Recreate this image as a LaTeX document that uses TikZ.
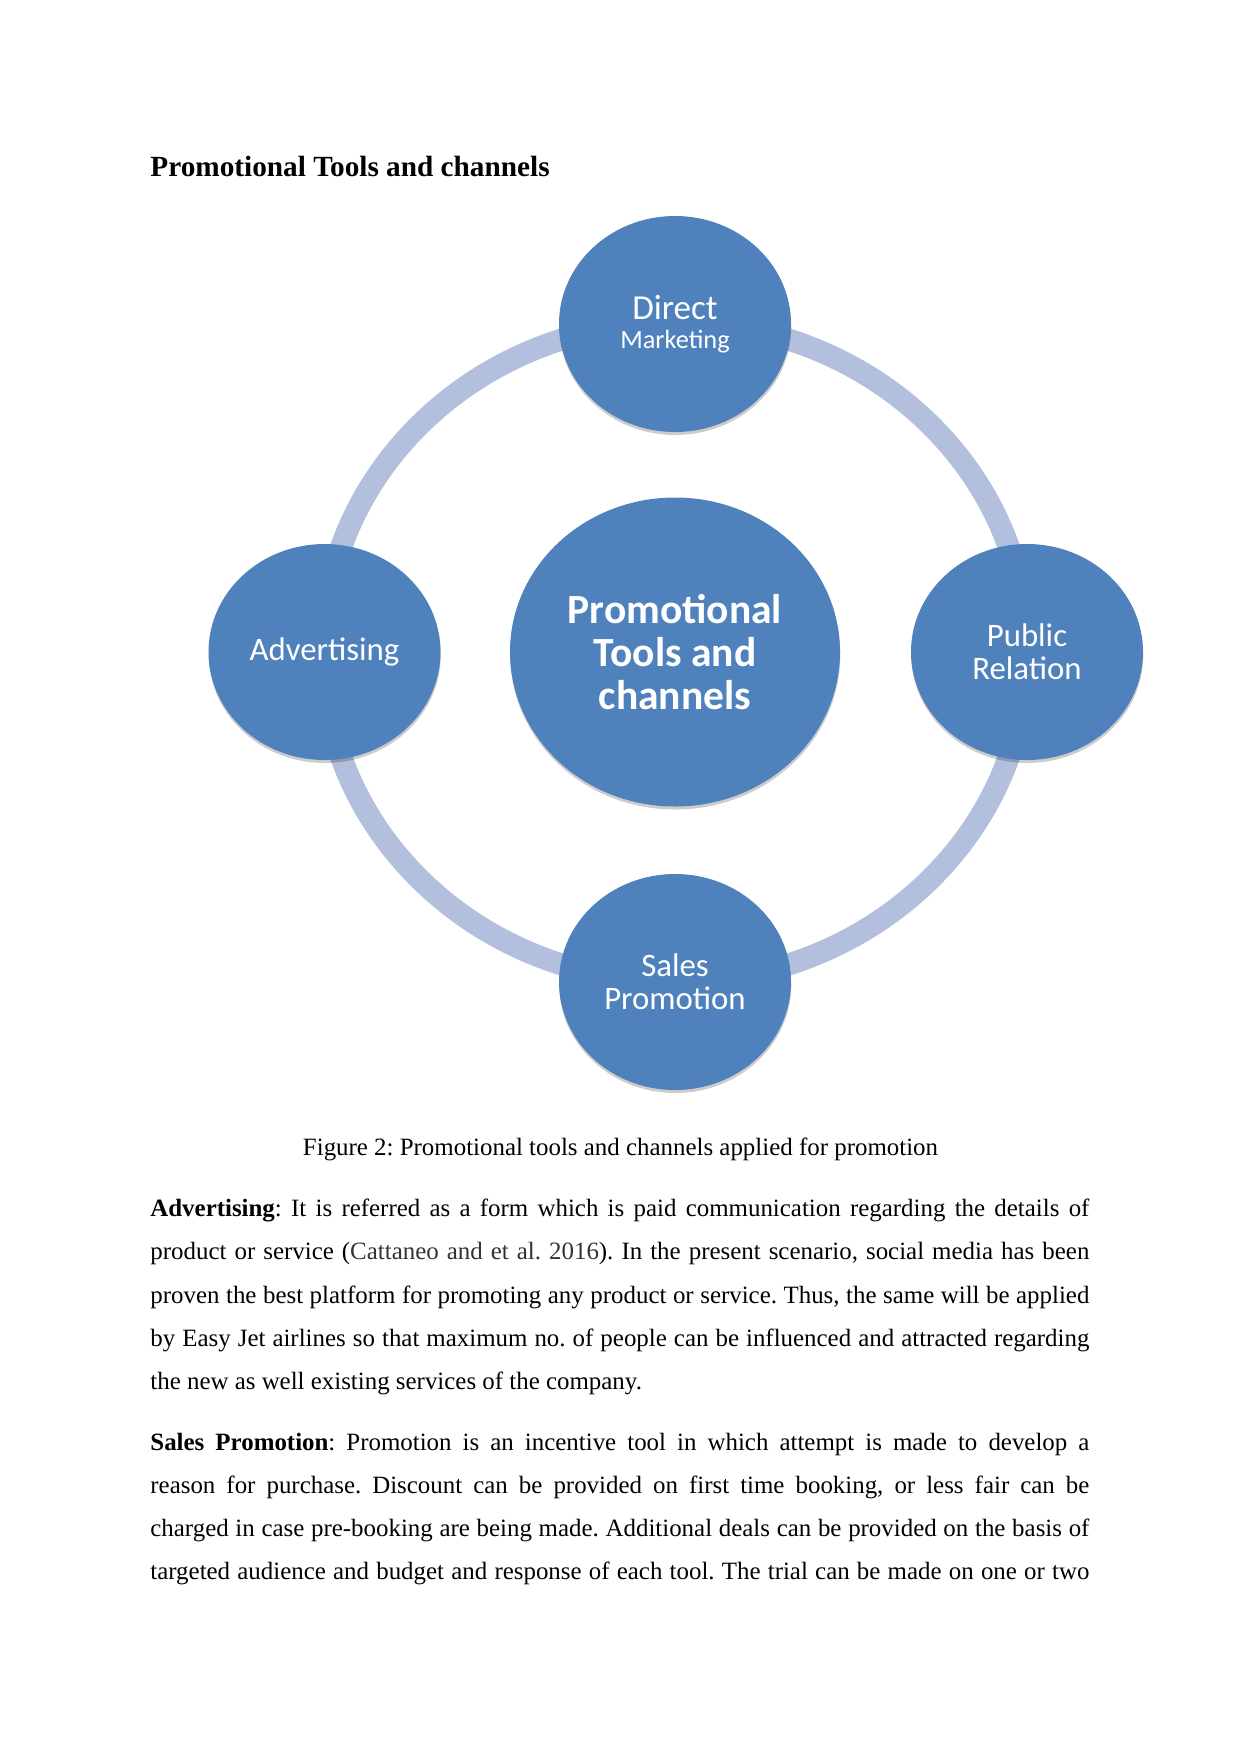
\documentclass[tikz,border=0pt]{standalone}
\usepackage{fontspec}
\setmainfont{Liberation Serif}
\newfontfamily\smartfont{Carlito}
\usepackage{tikz}
\usetikzlibrary{
  shapes.geometric,%
  % soft shadow under the circles
  shadows,
  positioning,
  calc
}
\definecolor{circblue}{RGB}{79,129,189}
\definecolor{ringblue}{RGB}{178,192,222}
\def\pxu{0.169333mm}
\tikzset{font=\normalsize}
\tikzset{
  bubble/.style={ellipse, fill=circblue, text=white, align=center, inner sep=0pt,
    minimum width=232*\pxu, minimum height=216*\pxu,
    font=\smartfont\fontsize{15.8}{15.8}\selectfont,
    drop shadow={shadow xshift=0.3*\pxu, shadow yshift=-3*\pxu, opacity=0.2, fill=black}},
  hubble/.style={bubble, minimum width=330*\pxu, minimum height=309*\pxu},
  bodytext/.style={anchor=base west, inner sep=0pt, text width=939*\pxu, align=justify,
    font=\fontsize{12}{20.8}\selectfont}
}

\begin{document}
\frenchspacing
\begin{tikzpicture}[x=\pxu, y=-\pxu]
          \useasboundingbox[fill=white] (0,0) rectangle (1241,1754);
          \node[anchor=base west, inner sep=0pt, font=\fontsize{14.1}{16}\selectfont\bfseries] (title) at (150,176.7) {Promotional Tools and channels};
          % the ring behind the circles
          \coordinate (ctr) at (675,652);
          \draw[ringblue, line width=22*\pxu] (ctr) ellipse [x radius=352, y radius=330];
          \node[hubble, font=\smartfont\fontsize{20}{20.6}\selectfont\bfseries] (hub) at (ctr) {Promotional\\Tools and\\channels};
          \node[bubble, font=\smartfont\fontsize{12.7}{13.9}\selectfont] (dm) at (675,324) {{\fontsize{16.9}{13.9}\selectfont Direct}\\Marketing};
          \node[bubble] (adv) at (324.5,652) {Advertising};
          \node[bubble] (pr) at (1027,652) {Public\\Relation};
          \node[bubble] (sp) at (675,982) {Sales\\Promotion};
          % caption and text below
          \node[anchor=base, inner sep=0pt, font=\fontsize{12}{14}\selectfont] (cap) at (620.5,1155) {Figure 2: Promotional tools and channels applied for promotion};
          \node[bodytext] (advtext) at (150,1216.7) {\tolerance=9999\hyphenpenalty=10000
            \textbf{Advertising}: It is referred as a form which is paid communication regarding the details of\linebreak
            product or service ({\color{black!80}Cattaneo and et al. 2016}). In the present scenario, social media has been\linebreak
            proven the best platform for promoting any product or service. Thus, the same will be applied\linebreak
            by Easy Jet airlines so that maximum no. of people can be influenced and attracted regarding\linebreak
            the new as well existing services of the company.};
          \node[bodytext] (sptext) at (150,1450) {\tolerance=9999\hyphenpenalty=10000\parfillskip=0pt
            \textbf{Sales Promotion}: Promotion is an incentive tool in which attempt is made to develop a\linebreak
            reason for purchase. Discount can be provided on first time booking, or less fair can be\linebreak
            charged in case pre-booking are being made. Additional deals can be provided on the basis of\linebreak
            targeted audience and budget and response of each tool. The trial can be made on one or two\par};
        \end{tikzpicture}
\end{document}
